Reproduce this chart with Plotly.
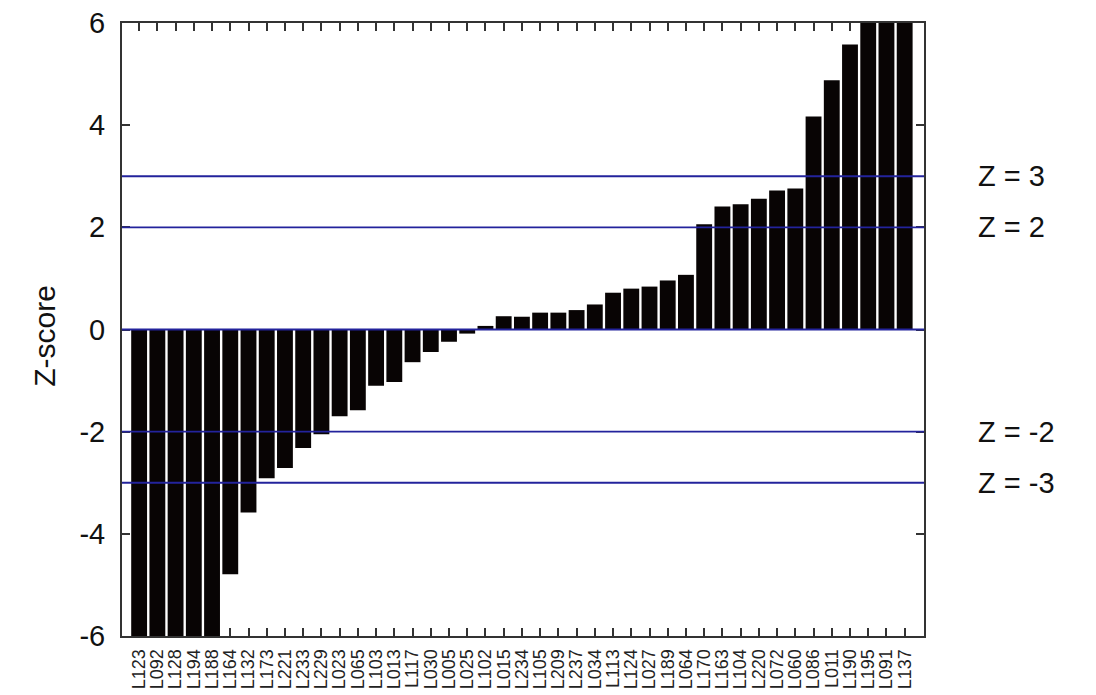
import plotly.graph_objects as go

labels = ["L123","L092","L128","L194","L188","L164","L132","L173","L221","L233","L229",
          "L023","L065","L103","L013","L117","L030","L005","L025","L102","L015","L234",
          "L105","L209","L237","L034","L113","L124","L027","L189","L064","L170","L163",
          "L104","L220","L072","L060","L086","L011","L190","L195","L091","L137"]
zscores = [-9.5, -8.4, -7.6, -6.9, -6.4, -4.79, -3.58, -2.91, -2.71, -2.32, -2.05,
           -1.70, -1.58, -1.10, -1.03, -0.64, -0.44, -0.24, -0.08, 0.07, 0.26, 0.25,
           0.33, 0.33, 0.38, 0.49, 0.72, 0.80, 0.84, 0.96, 1.07, 2.06, 2.41,
           2.45, 2.56, 2.72, 2.76, 4.17, 4.88, 5.58, 6.4, 7.1, 8.0]
ref_levels = [3, 2, 0, -2, -3]
ref_texts = {3: "Z = 3", 2: "Z = 2", -2: "Z = -2", -3: "Z = -3"}
y_ticks = [-6, -4, -2, 0, 2, 4, 6]
y_ticktext = ["-6", "-4", "-2", "0", "2", "4", "6"]

FONT = "Liberation Sans, Arial, sans-serif"

fig = go.Figure()
fig.add_trace(go.Bar(
    x=labels, y=zscores,
    marker=dict(color="#080404", line=dict(width=0)),
    showlegend=False,
))

for lv in ref_levels:
    fig.add_shape(type="line", xref="paper", x0=0, x1=1, yref="y", y0=lv, y1=lv,
                  line=dict(color="#23239c", width=1.8), layer="above")
    if lv in ref_texts:
        fig.add_annotation(text=ref_texts[lv], xref="paper", x=1.065, xanchor="left",
                           yref="y", y=lv, yanchor="middle", showarrow=False,
                           font=dict(family=FONT, size=29, color="#111111"))

fig.add_annotation(text="Z-score", xref="paper", x=-0.097, yref="paper", y=0.49,
                   textangle=-90, showarrow=False, xanchor="center", yanchor="middle",
                   font=dict(family=FONT, size=30, color="#111111"))

fig.update_layout(
    width=1096, height=695,
    margin=dict(l=114, r=180, t=15, b=67, autoexpand=False),
    paper_bgcolor="white", plot_bgcolor="white",
    bargap=0.13,
    font=dict(family=FONT, color="#111111"),
    xaxis=dict(
        type="category", range=[-0.94, 43.06], automargin=False,
        tickmode="array", tickvals=labels, ticktext=labels,
        showline=True, linecolor="#333333", linewidth=2, mirror="ticks",
        ticks="inside", ticklen=8, tickwidth=1.5, tickcolor="#333333",
        tickangle=-90, tickfont=dict(family=FONT, size=18, color="#222222"),
        showgrid=False, zeroline=False, layer="below traces",
        ticklabelstandoff=4, ticklabeloverflow="allow",
    ),
    yaxis=dict(
        range=[-6, 6], tickmode="array", tickvals=y_ticks, ticktext=y_ticktext,
        automargin=False,
        showline=True, linecolor="#333333", linewidth=2, mirror="ticks",
        ticks="inside", ticklen=8, tickwidth=1.5, tickcolor="#333333",
        tickfont=dict(family=FONT, size=29, color="#111111"),
        showgrid=False, zeroline=False, layer="below traces",
        ticklabelstandoff=9, ticklabeloverflow="allow",
    ),
)

fig.write_html("out.html")
